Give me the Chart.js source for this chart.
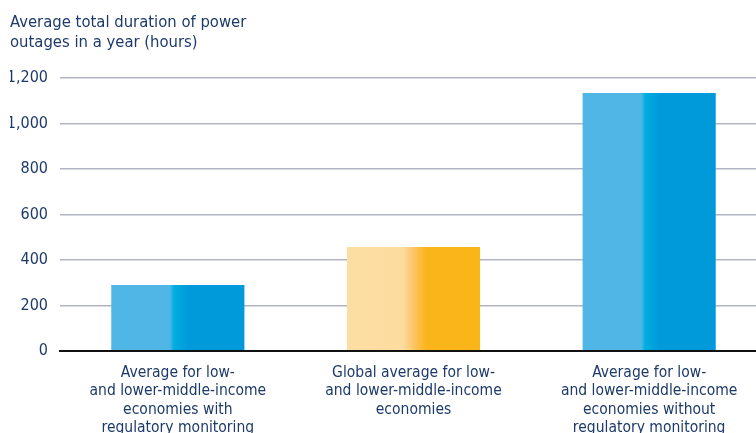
<!DOCTYPE html>
<html>
<head>
<meta charset="utf-8">
<script src="https://cdn.jsdelivr.net/npm/chart.js@4"></script>
<style>
  html, body { margin: 0; padding: 0; background: #fff; overflow: hidden; }
  #wrap { width: 756px; height: 433px; overflow: hidden; position: relative; }
  #box { width: 767px; height: 442px; position: absolute; left: 0; top: 0; }
</style>
</head>
<body>
<div id="wrap"><div id="box"><canvas id="outages__graph"></canvas></div></div>
<script>
document.addEventListener('DOMContentLoaded', function(){

    const categories = [
        ['Average for low-', 'and lower-middle-income', 'economies with', 'regulatory monitoring'],
        ['Global average for low-', 'and lower-middle-income', 'economies'],
        ['Average for low-', 'and lower-middle-income', 'economies without', 'regulatory monitoring']
    ];
    const hours = [289, 457, 1134];
    const titleLines = ['Average total duration of power', 'outages in a year (hours)'];

    const navy = '#1d3a6a';
    const font = "'Liberation Sans Narrow', 'DejaVu Sans Condensed', sans-serif";

    // light half / dark half for each bar
    const blueStops = [[0, '#50b6e5'], [0.44, '#50b6e5'], [0.47, '#00aedf'], [0.58, '#0099d9'], [1, '#0099d9']];
    const yellowStops = [[0, '#fddea2'], [0.42, '#fddca0'], [0.5, '#fcc565'], [0.6, '#f9b51a'], [1, '#f9b518']];
    const barStops = [blueStops, yellowStops, blueStops];
    const barPct = 0.565;

    function barFill(ctx) {
        const chart = ctx.chart;
        const xs = chart.scales.x;
        if (!chart.chartArea || !xs) return barStops[ctx.dataIndex][1][1];
        const cx = xs.getPixelForValue(ctx.dataIndex);
        const w = (xs.width / categories.length) * barPct;
        const g = chart.ctx.createLinearGradient(cx - w / 2, 0, cx + w / 2, 0);
        barStops[ctx.dataIndex].forEach(function(s){ g.addColorStop(s[0], s[1]); });
        return g;
    }

    new Chart(document.querySelector('#outages__graph'), {
        type: 'bar',
        data: {
            labels: categories,
            datasets: [{
                data: hours,
                backgroundColor: barFill,
                borderWidth: 0,
                barPercentage: barPct,
                categoryPercentage: 1
            }]
        },
        options: {
            responsive: true,
            maintainAspectRatio: false,
            animation: false,
            layout: { padding: { left: 10, right: 0, top: 0, bottom: 0 } },
            plugins: {
                legend: { display: false },
                tooltip: { enabled: false },
                title: {
                    display: true,
                    text: titleLines,
                    align: 'start',
                    color: navy,
                    font: { family: font, size: 16.5, weight: 'normal', lineHeight: 1.21 },
                    padding: { top: 13, bottom: 25 }
                }
            },
            scales: {
                y: {
                    min: 0,
                    max: 1200,
                    afterFit: function(scale){ scale.width = 50; },
                    ticks: {
                        stepSize: 200,
                        color: navy,
                        padding: 12,
                        font: { family: font, size: 16 }
                    },
                    grid: { color: '#b3b3c6', lineWidth: 1.5, drawTicks: false },
                    border: { display: false }
                },
                x: {
                    grid: { display: false },
                    border: { display: true, color: '#111', width: 2 },
                    ticks: {
                        color: navy,
                        padding: 5,
                        maxRotation: 0,
                        font: { family: font, size: 15.5, lineHeight: 1.18 }
                    }
                }
            }
        }
    });
});
</script>
</body>
</html>
